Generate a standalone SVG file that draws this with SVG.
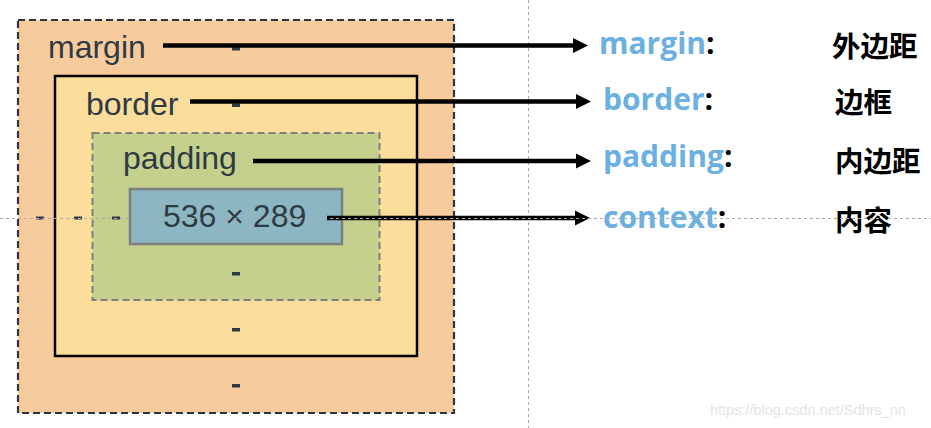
<svg xmlns="http://www.w3.org/2000/svg" width="931" height="428" viewBox="0 0 931 428">
<style>
.lbl{font-family:"Liberation Sans",Arial,sans-serif;font-size:32px;fill:#2e3a44}
.dash{fill:#2e3a44}
.key{font-family:"Open Sans","Noto Sans CJK SC",sans-serif;font-weight:bold;font-size:30px;fill:#6cb0e2}
.colon{fill:#000}
.cjk{font-family:"Noto Sans CJK SC",sans-serif;font-weight:bold;font-size:28.5px;fill:#000}
.arrow{stroke:#000;stroke-width:4.5;fill:none}
.guide{stroke:#aaa;stroke-width:1;stroke-dasharray:3,3;fill:none}
</style>
<defs>
<marker id="ah" markerUnits="userSpaceOnUse" markerWidth="16" markerHeight="16" refX="0" refY="8" orient="auto">
<path d="M0,0.5 L15,8 L0,15.5 Z" fill="#000"/>
</marker>
</defs>
<rect width="931" height="428" fill="#fff"/>
<line class="guide" x1="528.5" y1="0" x2="528.5" y2="428"/>
<g id="margin-box">
<rect x="18" y="20" width="436" height="393" fill="#f8cb9c" stroke="#2b3640" stroke-width="2.2" stroke-dasharray="7,4"/>
<text class="lbl" x="48" y="58">margin</text>
<rect class="dash" x="232" y="47" width="8" height="3.5"/>
<rect class="dash" x="232" y="384" width="8" height="3.5"/>
<rect class="dash" x="36" y="216.5" width="8" height="3"/>
</g>
<g id="border-box">
<rect x="55" y="76" width="362" height="280" fill="#fddd9b" stroke="#000" stroke-width="2.5"/>
<text class="lbl" x="86" y="115">border</text>
<rect class="dash" x="232" y="103.5" width="8" height="3.5"/>
<rect class="dash" x="232" y="328" width="8" height="3.5"/>
<rect class="dash" x="74" y="216.5" width="8" height="3"/>
</g>
<g id="padding-box">
<rect x="92.5" y="133" width="287" height="167" fill="#c4d08b" stroke="#7f7f7f" stroke-width="2" stroke-dasharray="7,4"/>
<text class="lbl" x="123" y="169">padding</text>
<rect class="dash" x="232" y="272" width="8" height="3.5"/>
<rect class="dash" x="112" y="216.5" width="8" height="3"/>
</g>
<g id="content-box">
<rect x="130" y="189" width="212" height="55" fill="#8cb6c2" stroke="#7f7f7f" stroke-width="2.5"/>
<text class="lbl" x="163" y="227">536 × 289</text>
</g>
<g id="connectors">
<line class="arrow" x1="163" y1="45.5" x2="573" y2="45.5" marker-end="url(#ah)"/>
<line class="arrow" x1="190" y1="101.5" x2="576" y2="101.5" marker-end="url(#ah)"/>
<line class="arrow" x1="253" y1="161" x2="576" y2="161" marker-end="url(#ah)"/>
<line class="arrow" x1="327" y1="218" x2="575" y2="218" marker-end="url(#ah)"/>
</g>
<g id="key-margin">
<text class="key" x="599" y="54">margin<tspan class="colon">:</tspan></text>
<text class="cjk" x="832" y="57">外边距</text>
</g>
<g id="key-border">
<text class="key" x="603" y="110">border<tspan class="colon">:</tspan></text>
<text class="cjk" x="835" y="113">边框</text>
</g>
<g id="key-padding">
<text class="key" x="603" y="167">padding<tspan class="colon">:</tspan></text>
<text class="cjk" x="835" y="172">内边距</text>
</g>
<g id="key-context">
<text class="key" x="603" y="228">context<tspan class="colon">:</tspan></text>
<text class="cjk" x="835" y="231">内容</text>
</g>
<line class="guide" x1="0" y1="218.5" x2="931" y2="218.5"/>
<text x="710" y="415" font-family="Liberation Sans,Arial,sans-serif" font-size="14.5" fill="#e4e4e4">https://blog.csdn.net/Sdhrs_nn</text>
</svg>
